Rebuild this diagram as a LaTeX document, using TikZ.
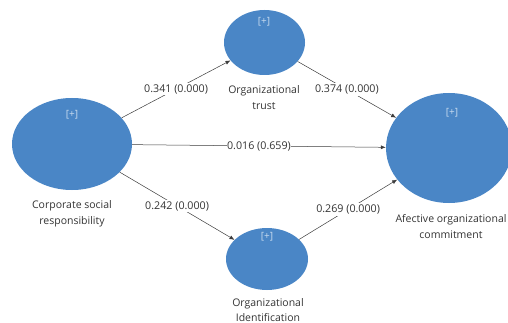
\documentclass[tikz,border=0pt]{standalone}
\usepackage{fontspec}
\setmainfont{Open Sans}
\usetikzlibrary{shapes.geometric,arrows.meta}
\definecolor{lvblue}{HTML}{4A86C6}
\definecolor{lvline}{HTML}{3C3C3C}
\definecolor{lvtext}{HTML}{333333}
\definecolor{plus}{HTML}{C9DBEF}
\tikzset{
  lv/.style={ellipse, fill=lvblue, draw=none, inner sep=0pt},
  plusmark/.style={text=plus, font=\fontsize{10}{12}\selectfont, inner sep=0pt},
  lvlabel/.style={text=lvtext, font=\fontsize{10.5}{16}\selectfont, align=center, inner sep=0pt},
  pathlab/.style={fill=white, text=lvtext, font=\fontsize{10.7}{12}\selectfont, inner sep=1.5pt},
  conn/.style={draw=lvline, line width=0.5pt, -{Latex[length=5pt,width=4pt]}}
}
\begin{document}
\begin{tikzpicture}[x=1pt,y=-1pt]
\useasboundingbox (0,0) rectangle (508,323);
\begin{scope}
\clip (0,0) rectangle (508,323);
\node[lv, minimum width=120pt, minimum height=92pt] (csr) at (72,144) {};
\node[lv, minimum width=81pt, minimum height=65pt] (trust) at (264.5,42.5) {};
\node[lv, minimum width=126pt, minimum height=110pt] (aoc) at (449,148) {};
\node[lv, minimum width=82pt, minimum height=62pt] (oid) at (267,259) {};
\end{scope}
\node[plusmark] (p1) at (72,115) {[+]};
\node[plusmark] (p2) at (264,22) {[+]};
\node[plusmark] (p3) at (452,113) {[+]};
\node[plusmark] (p4) at (267,237) {[+]};
\node[lvlabel] (l1) at (72,213.5) {Corporate social\\responsibility};
\node[lvlabel] (l2) at (264,98) {Organizational\\trust};
\node[lvlabel] (l3) at (451,226.5) {Afective organizational\\commitment};
\node[lvlabel, font=\fontsize{10.5}{15}\selectfont] (l4) at (268,310.5) {Organizational\\Identification};
\draw[conn] (csr) -- node[pathlab] {0.341 (0.000)} (trust);
\draw[conn] (trust) -- node[pathlab] {0.374 (0.000)} (aoc);
\draw[conn] (csr) -- node[pathlab, inner sep=0.5pt] {0.016 (0.659)} (aoc);
\draw[conn] (csr) -- node[pathlab] {0.242 (0.000)} (oid);
\draw[conn] (oid) -- node[pathlab] {0.269 (0.000)} (aoc);
\end{tikzpicture}
\end{document}
